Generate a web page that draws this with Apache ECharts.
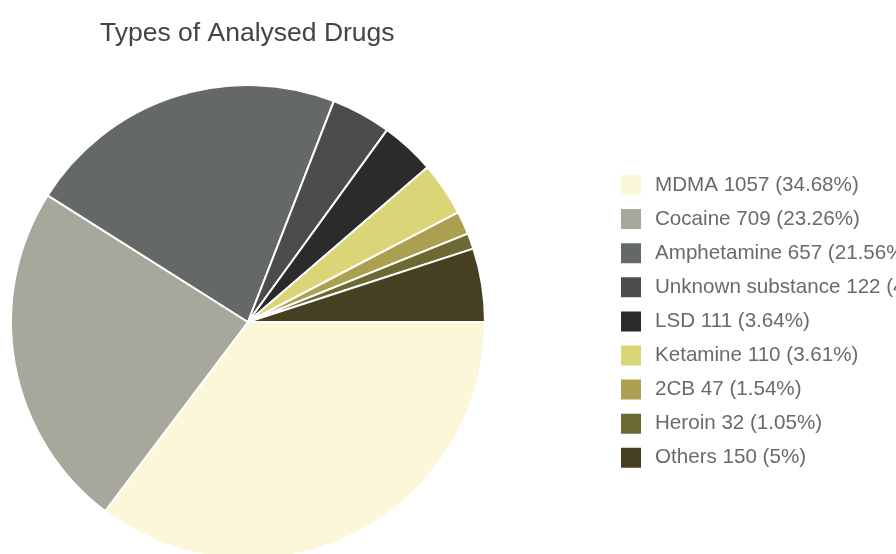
<!DOCTYPE html>
<html>
<head>
<meta charset="utf-8">
<script src="https://cdn.jsdelivr.net/npm/echarts@6/dist/echarts.min.js"></script>
<style>
  html, body { margin: 0; padding: 0; background: #ffffff; }
  #chart { width: 896px; height: 554px; }
</style>
</head>
<body>
<div id="chart"></div>
<script>
// Drug types found in analysed samples
const drugNames = ['MDMA', 'Cocaine', 'Amphetamine', 'Unknown substance', 'LSD', 'Ketamine', '2CB', 'Heroin', 'Others'];
const drugCounts = [1057, 709, 657, 122, 111, 110, 47, 32, 150];
const drugShares = ['34.68%', '23.26%', '21.56%', '4%', '3.64%', '3.61%', '1.54%', '1.05%', '5%'];
const sliceColors = ['#fcf7d8', '#a8a79b', '#646866', '#4c4c4c', '#2b2b2b', '#dad576', '#aba04f', '#6d6932', '#463f22'];

const chart = echarts.init(document.getElementById('chart'), null, { renderer: 'canvas' });

const pieData = drugNames.map((name, i) => ({
  name: name,
  value: drugCounts[i],
  itemStyle: { color: sliceColors[i] }
}));

chart.setOption({
  animation: false,
  backgroundColor: '#ffffff',
  title: {
    text: 'Types of Analysed Drugs',
    left: 100,
    top: 20,
    padding: 0,
    textStyle: {
      fontFamily: 'Liberation Sans, Arial, sans-serif',
      fontSize: 26.5,
      fontWeight: 'normal',
      color: '#444444'
    }
  },
  legend: {
    orient: 'vertical',
    left: 619,
    top: 173,
    padding: 0,
    itemWidth: 22,
    itemHeight: 22,
    itemGap: 10.1,
    icon: 'rect',
    selectedMode: false,
    data: drugNames,
    formatter: function (name) {
      const i = drugNames.indexOf(name);
      return name + ' ' + drugCounts[i] + ' (' + drugShares[i] + ')';
    },
    textStyle: {
      fontFamily: 'Liberation Sans, Arial, sans-serif',
      fontSize: 20.6,
      lineHeight: 22,
      color: '#6a6a6a',
      padding: [0, 0, 0, 8]
    }
  },
  series: [{
    type: 'pie',
    center: [248, 322],
    radius: 237,
    startAngle: 0,
    clockwise: true,
    avoidLabelOverlap: false,
    label: { show: false },
    labelLine: { show: false },
    emphasis: { disabled: true },
    itemStyle: { borderColor: '#ffffff', borderWidth: 2 },
    data: pieData
  }]
});
</script>
</body>
</html>
